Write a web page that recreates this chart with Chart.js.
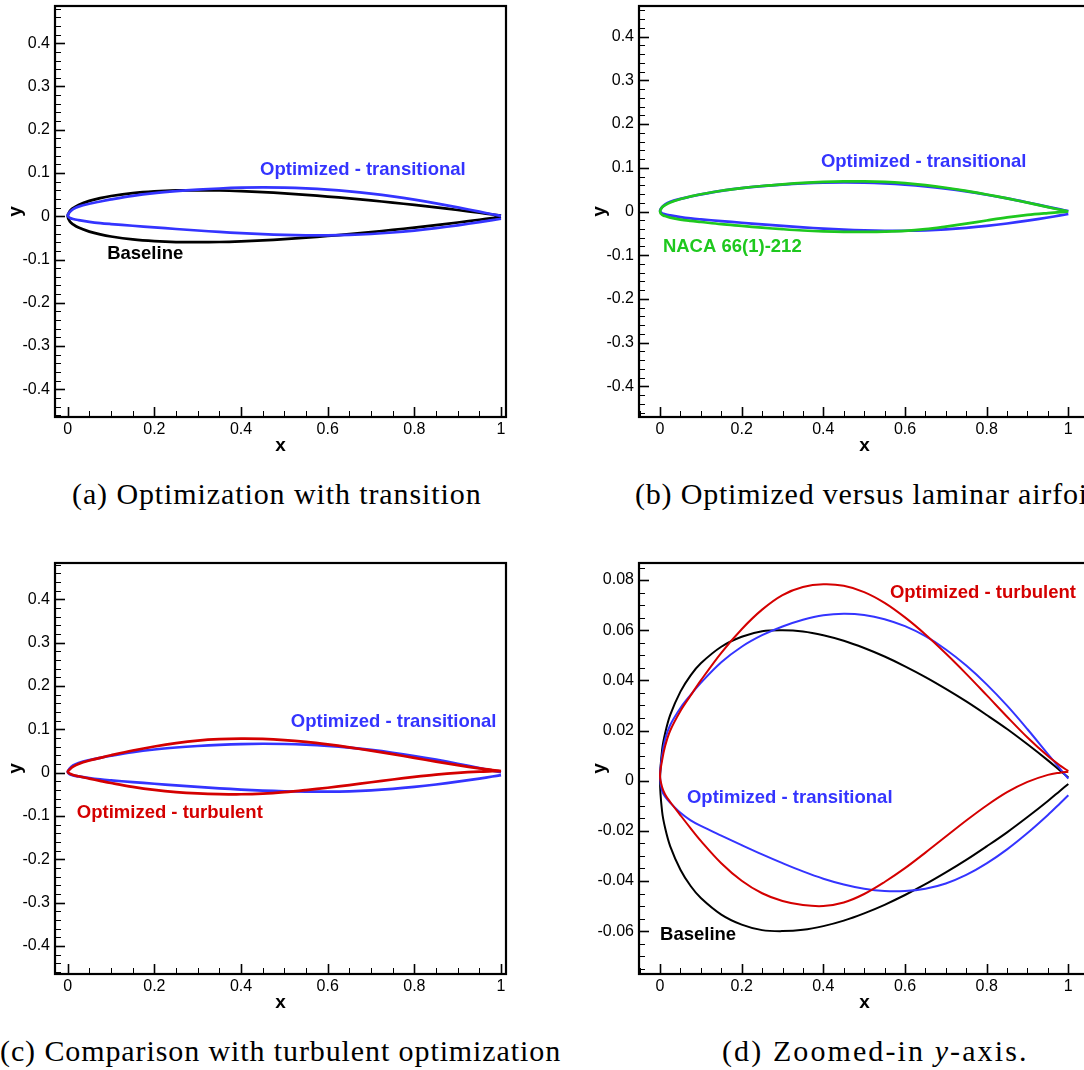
<!DOCTYPE html>
<html>
<head>
<meta charset="utf-8">
<title>Airfoil shapes</title>
<script src="https://cdn.jsdelivr.net/npm/chart.js@4.4.0/dist/chart.umd.min.js"></script>
<style>
  html, body { margin: 0; padding: 0; background: #fff; overflow: hidden; }
  body { width: 1084px; height: 1070px; position: relative; }
  canvas { position: absolute; }
  .caption {
    position: absolute;
    font-family: "Liberation Serif", "Times New Roman", serif;
    font-size: 30px;
    line-height: 30px;
    letter-spacing: 0.9px;
    white-space: nowrap;
    color: #000;
  }
</style>
</head>
<body>
<canvas id="panelA" width="520" height="470" style="left:0px;top:0px"></canvas>
<canvas id="panelB" width="520" height="470" style="left:584px;top:0px"></canvas>
<canvas id="panelC" width="520" height="470" style="left:0px;top:557px"></canvas>
<canvas id="panelD" width="520" height="470" style="left:584px;top:557px"></canvas>

<div class="caption" style="left:72px;top:479px">(a) Optimization with transition</div>
<div class="caption" style="left:635px;top:479px;letter-spacing:0.8px">(b) Optimized versus laminar airfoil</div>
<div class="caption" style="left:0px;top:1036px">(c) Comparison with turbulent optimization</div>
<div class="caption" style="left:722px;top:1036px;letter-spacing:2.1px">(d) Zoomed-in <i>y</i>-axis.</div>

<script>
// chordwise stations shared by every section
const stations = [0, 0.005, 0.0125, 0.025, 0.05, 0.075, 0.1, 0.15, 0.2, 0.25, 0.3, 0.35, 0.4, 0.45, 0.5, 0.55, 0.6, 0.65, 0.7, 0.75, 0.8, 0.85, 0.9, 0.95, 0.98, 1];

// baseline section
const baselineUpper = [0, 0.0122, 0.0189, 0.0262, 0.0355, 0.0420, 0.0468, 0.0534, 0.0574, 0.0596, 0.0600, 0.0595, 0.0580, 0.0558, 0.0529, 0.0495, 0.0456, 0.0413, 0.0366, 0.0316, 0.0262, 0.0206, 0.0145, 0.0081, 0.0040, 0.0013];
const baselineLower = [0, -0.0122, -0.0189, -0.0262, -0.0355, -0.0420, -0.0468, -0.0534, -0.0574, -0.0596, -0.0600, -0.0595, -0.0580, -0.0558, -0.0529, -0.0495, -0.0456, -0.0413, -0.0366, -0.0316, -0.0262, -0.0206, -0.0145, -0.0081, -0.0040, -0.0013];

// optimized with transition
const transUpper = [0.0015, 0.0100, 0.0165, 0.0222, 0.0290, 0.0342, 0.0390, 0.0472, 0.0534, 0.0580, 0.0615, 0.0642, 0.0660, 0.0666, 0.0661, 0.0644, 0.0616, 0.0576, 0.0523, 0.0459, 0.0384, 0.0299, 0.0205, 0.0106, 0.0047, 0.0008];
const transLower = [0.0015, -0.0040, -0.0064, -0.0088, -0.0128, -0.0158, -0.0180, -0.0219, -0.0257, -0.0294, -0.0329, -0.0362, -0.0391, -0.0414, -0.0431, -0.0440, -0.0440, -0.0431, -0.0410, -0.0376, -0.0330, -0.0274, -0.0209, -0.0137, -0.0090, -0.0058];

// optimized fully turbulent
const turbUpper = [0.0020, 0.0080, 0.0138, 0.0200, 0.0278, 0.0340, 0.0400, 0.0510, 0.0604, 0.0682, 0.0740, 0.0772, 0.0783, 0.0777, 0.0752, 0.0709, 0.0651, 0.0583, 0.0507, 0.0426, 0.0341, 0.0255, 0.0172, 0.0098, 0.0060, 0.0038];
const turbLower = [0.0020, -0.0025, -0.0055, -0.0085, -0.0138, -0.0190, -0.0240, -0.0329, -0.0399, -0.0449, -0.0480, -0.0496, -0.0500, -0.0486, -0.0452, -0.0404, -0.0349, -0.0287, -0.0223, -0.0159, -0.0099, -0.0046, -0.0005, 0.0023, 0.0032, 0.0036];

// NACA 66(1)-212 laminar section
const nacaUpper = [0, 0.0095, 0.0145, 0.0205, 0.0285, 0.0345, 0.0395, 0.0475, 0.0535, 0.0583, 0.0622, 0.0655, 0.0677, 0.0689, 0.0690, 0.0677, 0.0647, 0.0602, 0.0543, 0.0472, 0.0389, 0.0299, 0.0202, 0.0099, 0.0040, 0];
const nacaLower = [0, -0.0075, -0.0105, -0.0140, -0.0185, -0.0215, -0.0240, -0.0290, -0.0330, -0.0370, -0.0405, -0.0435, -0.0455, -0.0466, -0.0466, -0.0461, -0.0445, -0.0405, -0.0345, -0.0278, -0.0205, -0.0135, -0.0078, -0.0035, -0.0013, 0];

// axis ticks
const xTicks = [0, 0.2, 0.4, 0.6, 0.8, 1];
const yTicksFull = [-0.4, -0.3, -0.2, -0.1, 0, 0.1, 0.2, 0.3, 0.4];
const yTicksZoom = [-0.06, -0.04, -0.02, 0, 0.02, 0.04, 0.06, 0.08];

const BLUE = "#3434ff";
const RED = "#d40000";
const GREEN = "#1ec81e";
const BLACK = "#000000";
const SANS = '"Liberation Sans", Arial, Helvetica, sans-serif';

Chart.defaults.font.family = SANS;
Chart.defaults.color = "#000";

// closed contour: trailing edge -> upper -> leading edge -> lower -> trailing edge
function contour(upper, lower) {
  const pts = [];
  for (let i = stations.length - 1; i >= 0; i--) {
    pts.push({ x: stations[i], y: upper[i] });
  }
  for (let i = 1; i < stations.length; i++) {
    pts.push({ x: stations[i], y: lower[i] });
  }
  return pts;
}

function section(label, upper, lower, color, width) {
  return {
    label: label,
    data: contour(upper, lower),
    showLine: true,
    borderColor: color,
    borderWidth: width,
    pointRadius: 0,
    tension: 0.35,
    fill: false,
  };
}

// box frame, inward tick marks and in-plot labels
const framePlugin = {
  id: "frame",
  afterDatasetsDraw(chart, args, opts) {
    const { ctx, chartArea: a, scales } = chart;
    const xs = scales.x;
    const ys = scales.y;
    ctx.save();
    ctx.strokeStyle = "#000";

    const marks = (scale, majors, step, horizontal) => {
      const lo = Math.ceil(scale.min / step - 1e-6);
      const hi = Math.floor(scale.max / step + 1e-6);
      for (let k = lo; k <= hi; k++) {
        const v = k * step;
        const major = majors.some((m) => Math.abs(m - v) < step / 10);
        const len = major ? 10 : 6;
        const p = Math.round(scale.getPixelForValue(v)) + 0.5;
        ctx.lineWidth = major ? 1.6 : 1;
        ctx.beginPath();
        if (horizontal) {
          ctx.moveTo(p, a.bottom);
          ctx.lineTo(p, a.bottom - len);
        } else {
          ctx.moveTo(a.left, p);
          ctx.lineTo(a.left + len, p);
        }
        ctx.stroke();
      }
    };
    marks(xs, xTicks, opts.xMinor, true);
    marks(ys, opts.yMajor, opts.yMinor, false);

    ctx.lineWidth = 2.2;
    ctx.strokeRect(a.left, a.top, a.right - a.left, a.bottom - a.top);

    ctx.font = "bold 18.5px " + SANS;
    ctx.textBaseline = "middle";
    ctx.textAlign = "left";
    opts.notes.forEach((n) => {
      ctx.fillStyle = n.color;
      ctx.fillText(n.text, xs.getPixelForValue(n.x), ys.getPixelForValue(n.y));
    });
    ctx.restore();
  },
};

const fmt = (v) => String(+Number(v).toFixed(3));

function panel(id, p) {
  new Chart(document.getElementById(id), {
    type: "scatter",
    data: { datasets: p.datasets },
    options: {
      responsive: false,
      animation: false,
      events: [],
      layout: { padding: { top: 6, right: 14, left: 0, bottom: 0 } },
      plugins: {
        legend: { display: false },
        tooltip: { enabled: false },
        frame: { notes: p.notes, xMinor: 0.05, yMinor: p.yMinor, yMajor: p.yTicks },
      },
      scales: {
        x: {
          type: "linear",
          min: p.xRange[0],
          max: p.xRange[1],
          afterBuildTicks: (s) => { s.ticks = xTicks.map((v) => ({ value: v })); },
          afterFit: (s) => {
            s.height = 53;
            s.paddingLeft = 0;
            s.paddingRight = 0;
          },
          grid: { display: false, drawTicks: false },
          border: { display: false },
          ticks: { padding: 3, autoSkip: false, maxRotation: 0, font: { size: 16 }, color: "#000", callback: fmt },
          title: { display: true, text: "x", color: "#000", font: { size: 19, weight: "bold" }, padding: { top: 0, bottom: 13 } },
        },
        y: {
          type: "linear",
          min: p.yRange[0],
          max: p.yRange[1],
          afterBuildTicks: (s) => { s.ticks = p.yTicks.map((v) => ({ value: v })); },
          afterFit: (s) => {
            s.width = 55;
            s.paddingTop = 0;
            s.paddingBottom = 0;
          },
          grid: { display: false, drawTicks: false },
          border: { display: false },
          ticks: { padding: 5, autoSkip: false, font: { size: 16 }, color: "#000", callback: fmt },
          title: { display: true, text: "y", color: "#000", font: { size: 19, weight: "bold" }, padding: { top: 4, bottom: 0 } },
        },
      },
    },
    plugins: [framePlugin],
  });
}

// (a) optimization with transition
panel("panelA", {
  xRange: [-0.0293, 1.0115],
  yRange: [-0.464, 0.486],
  yTicks: yTicksFull,
  yMinor: 0.02,
  datasets: [
    section("Optimized - transitional", transUpper, transLower, BLUE, 2.7),
    section("Baseline", baselineUpper, baselineLower, BLACK, 2.7),
  ],
  notes: [
    { text: "Optimized - transitional", x: 0.444, y: 0.106, color: BLUE },
    { text: "Baseline", x: 0.091, y: -0.086, color: BLACK },
  ],
});

// (b) optimized versus laminar airfoil
panel("panelB", {
  xRange: [-0.0515, 1.0531],
  yRange: [-0.47, 0.47],
  yTicks: yTicksFull,
  yMinor: 0.02,
  datasets: [
    section("NACA 66(1)-212", nacaUpper, nacaLower, GREEN, 2.7),
    section("Optimized - transitional", transUpper, transLower, BLUE, 2.7),
  ],
  notes: [
    { text: "Optimized - transitional", x: 0.394, y: 0.114, color: BLUE },
    { text: "NACA 66(1)-212", x: 0.007, y: -0.082, color: GREEN },
  ],
});

// (c) comparison with turbulent optimization
panel("panelC", {
  xRange: [-0.0293, 1.0115],
  yRange: [-0.465, 0.484],
  yTicks: yTicksFull,
  yMinor: 0.02,
  datasets: [
    section("Optimized - turbulent", turbUpper, turbLower, RED, 2.7),
    section("Optimized - transitional", transUpper, transLower, BLUE, 2.7),
  ],
  notes: [
    { text: "Optimized - transitional", x: 0.515, y: 0.116, color: BLUE },
    { text: "Optimized - turbulent", x: 0.021, y: -0.094, color: RED },
  ],
});

// (d) zoomed-in y-axis
panel("panelD", {
  xRange: [-0.0515, 1.0531],
  yRange: [-0.0771, 0.0868],
  yTicks: yTicksZoom,
  yMinor: 0.005,
  datasets: [
    section("Optimized - turbulent", turbUpper, turbLower, RED, 2),
    section("Optimized - transitional", transUpper, transLower, BLUE, 2),
    section("Baseline", baselineUpper, baselineLower, BLACK, 2),
  ],
  notes: [
    { text: "Optimized - turbulent", x: 0.563, y: 0.0748, color: RED },
    { text: "Optimized - transitional", x: 0.066, y: -0.0069, color: BLUE },
    { text: "Baseline", x: 0.0, y: -0.0616, color: BLACK },
  ],
});
</script>
</body>
</html>
